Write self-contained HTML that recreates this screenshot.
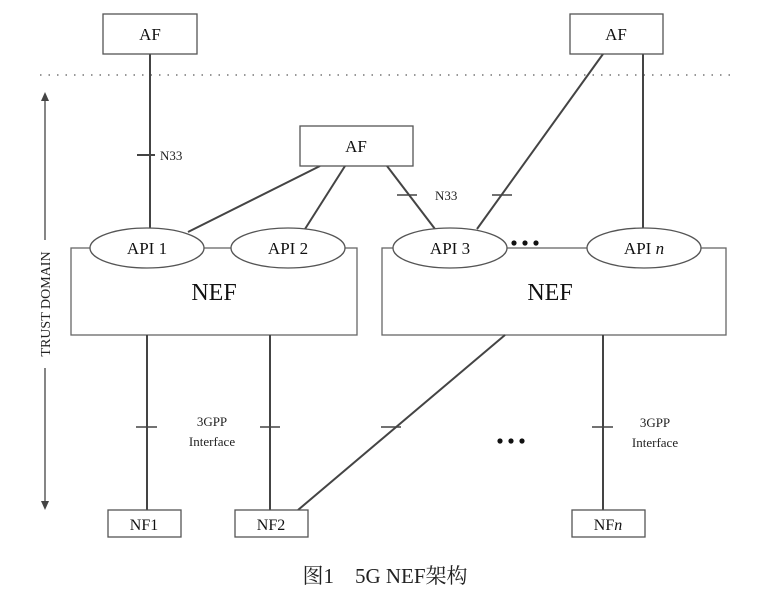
<!DOCTYPE html>
<html><head><meta charset="utf-8"><style>body{margin:0;background:#fff}</style></head><body>
<svg width="761" height="600" xmlns="http://www.w3.org/2000/svg" font-family="Liberation Serif, serif" fill="none" stroke="#444" stroke-width="2">
<line x1="40" y1="75" x2="735" y2="75" stroke="#777" stroke-width="1.5" stroke-dasharray="1.5 7"/>
<line x1="45" y1="95" x2="45" y2="240" stroke-width="1.3"/>
<line x1="45" y1="368" x2="45" y2="505" stroke-width="1.3"/>
<polygon points="45,92 41,101 49,101" fill="#444" stroke="none"/>
<polygon points="45,510 41,501 49,501" fill="#444" stroke="none"/>
<text transform="translate(50,304) rotate(-90)" text-anchor="middle" font-size="14" fill="#222" stroke="none">TRUST DOMAIN</text>
<line x1="150" y1="54" x2="150" y2="230"/>
<line x1="137" y1="155" x2="155" y2="155"/>
<text x="160" y="160" font-size="13" fill="#222" stroke="none">N33</text>
<line x1="320" y1="166" x2="188" y2="232"/>
<line x1="345" y1="166" x2="305" y2="229"/>
<line x1="387" y1="166" x2="435" y2="229"/>
<line x1="397" y1="195" x2="417" y2="195" stroke-width="1.5"/>
<text x="435" y="200" font-size="13" fill="#222" stroke="none">N33</text>
<line x1="603" y1="54" x2="477" y2="229"/>
<line x1="492" y1="195" x2="512" y2="195" stroke-width="1.5"/>
<line x1="643" y1="54" x2="643" y2="229"/>
<rect x="71" y="248" width="286" height="87" stroke="#666" stroke-width="1.3" fill="#fff"/>
<rect x="382" y="248" width="344" height="87" stroke="#666" stroke-width="1.3" fill="#fff"/>
<text x="214" y="300" font-size="24" text-anchor="middle" fill="#111" stroke="none">NEF</text>
<text x="550" y="300" font-size="24" text-anchor="middle" fill="#111" stroke="none">NEF</text>
<g stroke="#555" stroke-width="1.3" fill="#fff">
<ellipse cx="147" cy="248" rx="57" ry="20"/>
<ellipse cx="288" cy="248" rx="57" ry="20"/>
<ellipse cx="450" cy="248" rx="57" ry="20"/>
<ellipse cx="644" cy="248" rx="57" ry="20"/>
</g>
<g font-size="17" fill="#111" stroke="none" text-anchor="middle">
<text x="147" y="254">API 1</text>
<text x="288" y="254">API 2</text>
<text x="450" y="254">API 3</text>
<text x="644" y="254">API <tspan font-style="italic">n</tspan></text>
</g>
<g fill="#111" stroke="none">
<circle cx="514" cy="243" r="2.6"/><circle cx="525" cy="243" r="2.6"/><circle cx="536" cy="243" r="2.6"/>
<circle cx="500" cy="441" r="2.6"/><circle cx="511" cy="441" r="2.6"/><circle cx="522" cy="441" r="2.6"/>
</g>
<g stroke="#555" stroke-width="1.3" fill="#fff">
<rect x="103" y="14" width="94" height="40"/>
<rect x="570" y="14" width="93" height="40"/>
<rect x="300" y="126" width="113" height="40"/>
</g>
<g font-size="17" fill="#111" stroke="none" text-anchor="middle">
<text x="150" y="40">AF</text>
<text x="616" y="40">AF</text>
<text x="356" y="152">AF</text>
</g>
<line x1="147" y1="335" x2="147" y2="510"/>
<line x1="270" y1="335" x2="270" y2="510"/>
<line x1="505" y1="335" x2="298" y2="510"/>
<line x1="603" y1="335" x2="603" y2="510"/>
<g stroke-width="1.5">
<line x1="136" y1="427" x2="157" y2="427"/>
<line x1="260" y1="427" x2="280" y2="427"/>
<line x1="381" y1="427" x2="401" y2="427"/>
<line x1="592" y1="427" x2="613" y2="427"/>
</g>
<g font-size="13" fill="#222" stroke="none" text-anchor="middle">
<text x="212" y="426">3GPP</text><text x="212" y="446">Interface</text>
<text x="655" y="427">3GPP</text><text x="655" y="447">Interface</text>
</g>
<g stroke="#555" stroke-width="1.3" fill="#fff">
<rect x="108" y="510" width="73" height="27"/>
<rect x="235" y="510" width="73" height="27"/>
<rect x="572" y="510" width="73" height="27"/>
</g>
<g font-size="16" fill="#111" stroke="none" text-anchor="middle">
<text x="144" y="530">NF1</text>
<text x="271" y="530">NF2</text>
<text x="608" y="530">NF<tspan font-style="italic">n</tspan></text>
</g>
<text x="385" y="583" font-size="21" text-anchor="middle" fill="#222" stroke="none" font-family="Liberation Serif, 'Noto Serif CJK SC', serif">图1　5G NEF架构</text>
</svg>
</body></html>
